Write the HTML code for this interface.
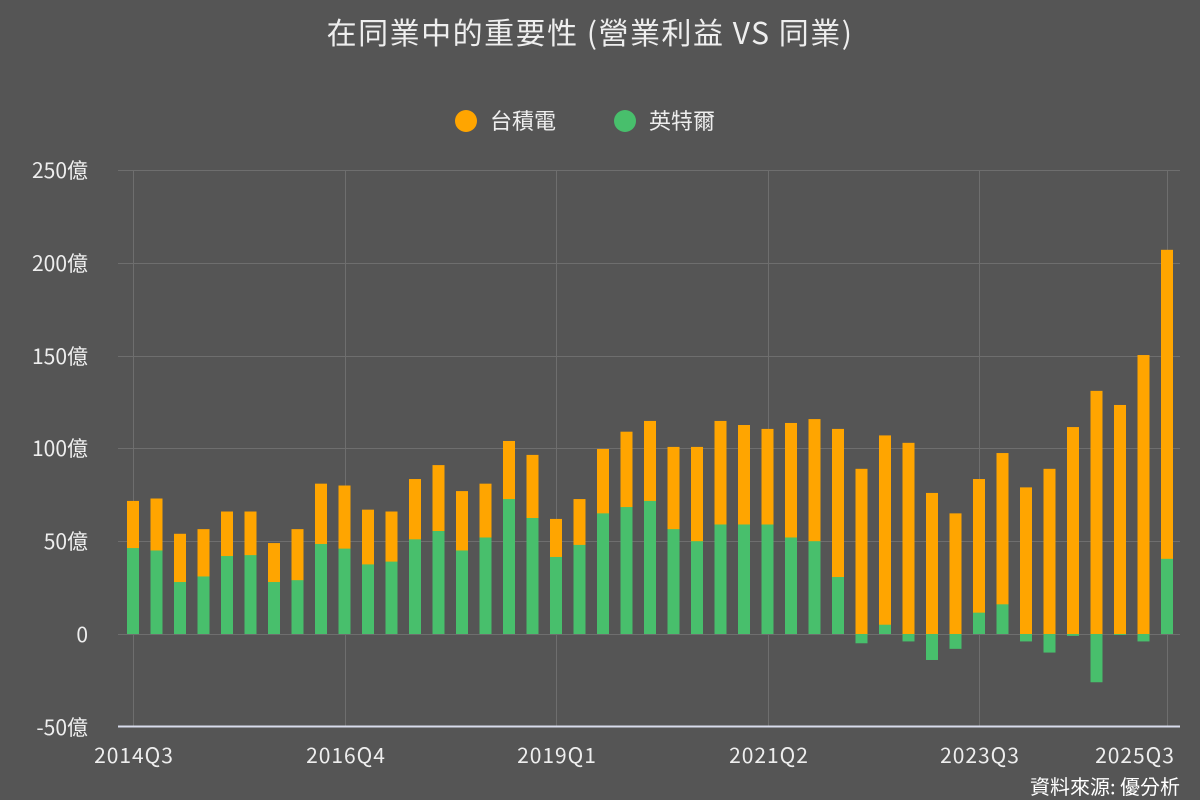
<!DOCTYPE html>
<html><head><meta charset="utf-8">
<style>
html,body{margin:0;padding:0;background:#555555;}
svg{display:block;font-family:"Noto Sans CJK TC","Liberation Sans",sans-serif;}
</style></head>
<body>
<svg id="s" width="1200" height="800" xmlns="http://www.w3.org/2000/svg">
<rect width="1200" height="800" fill="#555555"/>
<text x="590" y="44" font-size="30" fill="#eeeeee" text-anchor="middle" letter-spacing="1.5">在同業中的重要性 (營業利益 VS 同業)</text>
<circle cx="466" cy="121" r="11" fill="#FFA500"/>
<text x="490" y="129" font-size="22" fill="#eeeeee">台積電</text>
<circle cx="625" cy="121" r="11" fill="#48BF6C"/>
<text x="649" y="129" font-size="22" fill="#eeeeee">英特爾</text>
<g font-size="21" fill="#eeeeee" text-anchor="end">
<text x="88" y="178">250億</text>
<text x="88" y="271">200億</text>
<text x="88" y="364">150億</text>
<text x="88" y="456">100億</text>
<text x="88" y="549">50億</text>
<text x="88" y="642">0</text>
<text x="88" y="735">-50億</text>
</g>
<g font-size="21" fill="#eeeeee" text-anchor="middle" letter-spacing="1">
<text x="134" y="763">2014Q3</text>
<text x="346" y="763">2016Q4</text>
<text x="557" y="763">2019Q1</text>
<text x="769" y="763">2021Q2</text>
<text x="980" y="763">2023Q3</text>
<text x="1135" y="763">2025Q3</text>
</g>
<text x="1180" y="794" font-size="20" fill="#ffffff" text-anchor="end">資料來源: 優分析</text>
<g id="grid" stroke="#6e6e6e" stroke-width="1"></g>
<g id="bars"></g>
<line x1="118" y1="726.5" x2="1180" y2="726.5" stroke="#d8dcec" stroke-width="2"/>
</svg>
<script>
var g=document.getElementById('grid'),b=document.getElementById('bars'),NS='http://www.w3.org/2000/svg';
function el(p,t,a){var e=document.createElementNS(NS,t);for(var k in a)e.setAttribute(k,a[k]);p.appendChild(e);}
var y0=634,k=1.856;
[250,200,150,100,50,0].forEach(function(v){var y=Math.round(y0-v*k)+0.5;el(g,'line',{x1:118,x2:1180,y1:y,y2:y});});
[0,9,18,27,36,44].forEach(function(i){var x=Math.round(133+i*23.5)+0.5;el(g,'line',{x1:x,x2:x,y1:170,y2:726});});
var tot=[71.7,73,54,56.5,66,66,49,56.5,81,80,67,66,83.5,91,77,81,104,96.5,62,72.7,99.7,109,114.8,100.8,100.8,114.8,112.6,110.5,113.7,115.8,110.5,89,107,103,76,65,83.5,97.5,79,89,111.5,131,123.4,150.3,207];
var gr=[46.3,45,28,31,42,42.5,28,29,48.5,46,37.5,39,51,55.5,45,52,72.7,62.5,41.5,48,65,68.4,71.7,56.5,50,59,59,59,52,50,30.7,-5,5,-4,-14,-8,11.5,16,-4,-10,-1,-26,-0.5,-4,40.5];
for(var i=0;i<45;i++){var x=133+i*23.5-6;
el(b,'rect',{x:x,y:y0-tot[i]*k,width:12,height:tot[i]*k,fill:'#FFA500'});
if(gr[i]>=0)el(b,'rect',{x:x,y:y0-gr[i]*k,width:12,height:gr[i]*k,fill:'#48BF6C'});
else el(b,'rect',{x:x,y:y0,width:12,height:-gr[i]*k,fill:'#48BF6C'});}
</script>
</body></html>
